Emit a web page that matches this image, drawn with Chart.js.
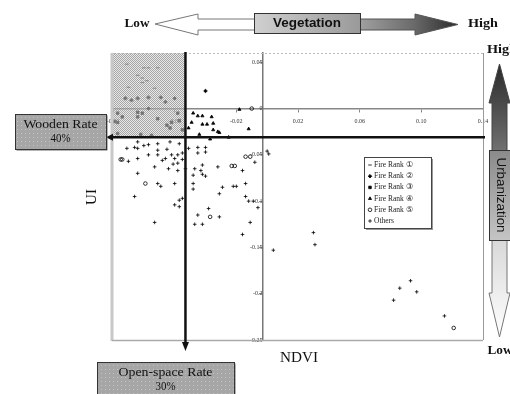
<!DOCTYPE html>
<html lang="en">
<head>
  <meta charset="UTF-8">
  <title>UI vs NDVI</title>
  <script src="https://cdn.jsdelivr.net/npm/chart.js"></script>
  <style>
    body { margin: 0; background: #fff; overflow: hidden; }
    #chart { display: block; }
  </style>
</head>
<body>
  <canvas id="chart" width="510" height="394"></canvas>
  <script>
    // Series names (legend order)
    const seriesNames = ['Fire Rank ①', 'Fire Rank ②', 'Fire Rank ③', 'Fire Rank ④', 'Fire Rank ⑤', 'Others'];

    // [NDVI, UI] pairs
    const rank1 = [
      [-0.091, 0.048], [-0.080, 0.044], [-0.077, 0.044], [-0.071, 0.044], [-0.084, 0.036],
      [-0.081, 0.033], [-0.078, 0.030], [-0.081, 0.028], [-0.073, 0.022], [-0.090, 0.023]
    ];
    const rank2 = [
      [-0.092, 0.011], [-0.084, 0.011], [-0.088, 0.009], [-0.077, 0.012], [-0.069, 0.012],
      [-0.060, 0.011], [-0.066, 0.007], [-0.077, 0.000], [-0.040, 0.019]
    ];
    const rank3 = [
      [-0.097, -0.005], [-0.084, -0.004], [-0.081, -0.005], [-0.094, -0.009], [-0.097, -0.015],
      [-0.099, -0.014], [-0.084, -0.009], [-0.071, -0.011], [-0.065, -0.018], [-0.062, -0.015],
      [-0.058, -0.005], [-0.057, -0.013], [-0.097, -0.027], [-0.075, -0.029], [-0.082, -0.028],
      [-0.063, -0.021], [-0.055, -0.023]
    ];
    const rank4 = [
      [-0.048, -0.005], [-0.045, -0.008], [-0.042, -0.008], [-0.036, -0.009], [-0.049, -0.015],
      [-0.042, -0.017], [-0.039, -0.017], [-0.035, -0.016], [-0.035, -0.023], [-0.032, -0.025],
      [-0.051, -0.021], [-0.044, -0.028], [-0.012, -0.022], [-0.037, -0.033], [-0.025, -0.031],
      [-0.018, -0.001], [-0.031, -0.026]
    ];
    const rank5 = [
      [-0.010, 0.000], [-0.037, -0.117], [-0.095, -0.055], [-0.094, -0.055], [-0.014, -0.052],
      [-0.011, -0.052], [-0.079, -0.081], [-0.023, -0.062], [-0.021, -0.062], [0.121, -0.237]
    ];
    const others = [
      [-0.084, -0.036], [-0.091, -0.043], [-0.086, -0.042], [-0.084, -0.043], [-0.080, -0.040],
      [-0.077, -0.039], [-0.071, -0.038], [-0.063, -0.036], [-0.057, -0.038], [-0.071, -0.045],
      [-0.065, -0.044], [-0.077, -0.050], [-0.071, -0.050], [-0.066, -0.054], [-0.062, -0.050],
      [-0.058, -0.050], [-0.055, -0.048], [-0.090, -0.057], [-0.084, -0.054], [-0.068, -0.056],
      [-0.060, -0.054], [-0.055, -0.055], [-0.061, -0.060], [-0.058, -0.059], [-0.064, -0.065],
      [-0.073, -0.063], [-0.058, -0.067], [-0.053, -0.065], [-0.084, -0.070], [-0.071, -0.081],
      [-0.069, -0.084], [-0.060, -0.081], [-0.086, -0.095], [-0.055, -0.097], [-0.057, -0.099],
      [-0.060, -0.104], [-0.057, -0.106], [-0.073, -0.123],
      [-0.051, -0.043], [-0.045, -0.042], [-0.040, -0.042], [-0.045, -0.048], [-0.040, -0.047],
      [-0.042, -0.061], [-0.047, -0.065], [-0.043, -0.067], [-0.042, -0.071], [-0.040, -0.073],
      [-0.048, -0.072], [-0.048, -0.081], [-0.048, -0.087], [-0.032, -0.063], [-0.016, -0.067],
      [-0.029, -0.085], [-0.022, -0.084], [-0.020, -0.084], [-0.014, -0.081], [-0.031, -0.092],
      [-0.014, -0.095], [-0.012, -0.100], [-0.009, -0.100], [-0.006, -0.107], [-0.038, -0.108],
      [-0.045, -0.115], [-0.031, -0.117], [-0.047, -0.125], [-0.042, -0.125], [-0.011, -0.123],
      [-0.008, -0.058], [-0.016, -0.136],
      [0.000, -0.046], [0.001, -0.049], [0.004, -0.153], [0.030, -0.134], [0.031, -0.147],
      [0.093, -0.186], [0.086, -0.194], [0.097, -0.198], [0.082, -0.207], [0.115, -0.224]
    ];

    // Axis ticks and ranges
    const xTickValues = [-0.10, -0.06, -0.02, 0.02, 0.06, 0.10, 0.14];
    const yTickValues = [-0.25, -0.2, -0.15, -0.1, -0.05, 0, 0.05];
    const xRange = [-0.10, 0.14];
    const yRange = [-0.25, 0.06];
    const yAxisAtNdvi = -0.003;

    // Threshold lines (open-space rate 30%, wooden rate 40%)
    const openSpaceNdvi = -0.053;
    const woodenUi = -0.031;

    const pointStyles = ['line', 'rectRot', 'rect', 'triangle', 'circle', 'cross'];
    const fills = ['#000', '#000', '#000', '#000', 'rgba(0,0,0,0)', '#000'];
    const allSeries = [rank1, rank2, rank3, rank4, rank5, others];

    const SERIF = '"Liberation Serif", "Times New Roman", serif';
    const SANS = '"Liberation Sans", Arial, sans-serif';

    function makePattern(w, h, paint) {
      const c = document.createElement('canvas');
      c.width = w; c.height = h;
      paint(c.getContext('2d'));
      return c;
    }

    // draw text stretched to a target width
    function fitText(ctx, text, cx, cy, font, width, color) {
      ctx.save();
      ctx.font = font;
      ctx.fillStyle = color || '#111';
      ctx.textAlign = 'center';
      ctx.textBaseline = 'middle';
      const w = ctx.measureText(text).width;
      ctx.translate(cx, cy);
      if (width) ctx.scale(width / w, 1);
      ctx.fillText(text, 0, 0);
      ctx.restore();
    }

    function rateBox(ctx, x, y, w, h, line1, line2) {
      const dots = makePattern(4, 4, g => {
        g.fillStyle = '#a6a6a6'; g.fillRect(0, 0, 4, 4);
        g.fillStyle = '#c4c4c4'; g.fillRect(1, 1, 1, 1);
      });
      ctx.save();
      ctx.fillStyle = '#6a6a6a';
      ctx.fillRect(x + 1.5, y + 1.5, w, h);
      ctx.fillStyle = ctx.createPattern(dots, 'repeat');
      ctx.fillRect(x, y, w, h);
      ctx.strokeStyle = '#333';
      ctx.lineWidth = 1;
      ctx.strokeRect(x + 0.5, y + 0.5, w, h);
      ctx.restore();
      fitText(ctx, line1.text, x + w / 2, line1.y, '12px ' + SERIF, line1.w);
      fitText(ctx, line2.text, x + w / 2, line2.y, '12px ' + SERIF, line2.w);
    }

    const decorPlugin = {
      id: 'decor',
      afterDatasetsDraw(chart) {
        const ctx = chart.ctx;
        const {left, right, top, bottom} = chart.chartArea;
        const xs = chart.scales.x, ys = chart.scales.y;
        const vx = xs.getPixelForValue(openSpaceNdvi);
        const hy = ys.getPixelForValue(woodenUi);

        // stippled shading over the high-UI / low-NDVI block
        const checker = makePattern(2, 2, g => {
          g.fillStyle = 'rgba(215,215,215,0.55)'; g.fillRect(0, 0, 2, 2);
          g.fillStyle = 'rgba(110,110,110,0.55)'; g.fillRect(0, 0, 1, 1); g.fillRect(1, 1, 1, 1);
        });
        ctx.save();
        ctx.fillStyle = ctx.createPattern(checker, 'repeat');
        ctx.fillRect(left, top, vx - left, hy - top);

        // frame
        ctx.strokeStyle = '#c8c8c8'; ctx.lineWidth = 3;
        ctx.beginPath(); ctx.moveTo(left - 1, top); ctx.lineTo(left - 1, bottom + 1); ctx.stroke();
        ctx.strokeStyle = '#aaa'; ctx.lineWidth = 1.5;
        ctx.beginPath(); ctx.moveTo(left - 1, bottom + 0.5); ctx.lineTo(right, bottom + 0.5); ctx.stroke();
        ctx.strokeStyle = '#999'; ctx.lineWidth = 1;
        ctx.beginPath(); ctx.moveTo(right + 0.5, top); ctx.lineTo(right + 0.5, bottom); ctx.stroke();
        ctx.strokeStyle = '#bbb'; ctx.setLineDash([2, 2]);
        ctx.beginPath(); ctx.moveTo(left, top + 0.5); ctx.lineTo(right, top + 0.5); ctx.stroke();
        ctx.setLineDash([]);

        // threshold lines with arrows
        ctx.strokeStyle = '#111'; ctx.fillStyle = '#111'; ctx.lineWidth = 2.5;
        ctx.beginPath(); ctx.moveTo(vx, top - 1); ctx.lineTo(vx, bottom + 4); ctx.stroke();
        ctx.beginPath(); ctx.moveTo(vx - 3.5, bottom + 2); ctx.lineTo(vx + 3.5, bottom + 2);
        ctx.lineTo(vx, bottom + 11); ctx.closePath(); ctx.fill();
        ctx.beginPath(); ctx.moveTo(right + 2, hy); ctx.lineTo(left - 2, hy); ctx.stroke();
        ctx.beginPath(); ctx.moveTo(left, hy - 3.5); ctx.lineTo(left, hy + 3.5);
        ctx.lineTo(left - 7, hy); ctx.closePath(); ctx.fill();

        // legend box
        const lx = 364, ly = 157, lw = 67, lh = 71;
        ctx.fillStyle = '#999';
        ctx.fillRect(lx + 2, ly + 2, lw, lh);
        ctx.fillStyle = '#fff';
        ctx.fillRect(lx, ly, lw, lh);
        ctx.strokeStyle = '#444'; ctx.lineWidth = 1;
        ctx.strokeRect(lx + 0.5, ly + 0.5, lw, lh);
        chart.data.datasets.forEach((ds, i) => {
          const ry = ly + 8 + i * 11.2;
          ctx.save();
          ctx.strokeStyle = '#000'; ctx.fillStyle = ds.backgroundColor; ctx.lineWidth = 0.8;
          if (Chart.helpers && Chart.helpers.drawPoint) {
            Chart.helpers.drawPoint(ctx, {pointStyle: ds.pointStyle, radius: 1.8, rotation: 0, borderWidth: 0.8}, lx + 6, ry);
          }
          ctx.restore();
          ctx.fillStyle = '#222';
          ctx.font = '7.5px ' + SERIF;
          ctx.textAlign = 'left'; ctx.textBaseline = 'middle';
          ctx.fillText(ds.label, lx + 10, ry);
        });
        ctx.restore();
      },
      afterDraw(chart) {
        const ctx = chart.ctx;
        ctx.save();

        // --- top vegetation arrow ---
        fitText(ctx, 'Low', 137, 24, 'bold 12px ' + SERIF, 25);
        fitText(ctx, 'High', 483, 24, 'bold 12px ' + SERIF, 30);
        ctx.lineWidth = 1; ctx.strokeStyle = '#777';
        ctx.fillStyle = '#fff';
        ctx.beginPath();
        ctx.moveTo(155, 24); ctx.lineTo(198, 14); ctx.lineTo(198, 19); ctx.lineTo(255, 19);
        ctx.lineTo(255, 30); ctx.lineTo(198, 30); ctx.lineTo(198, 35); ctx.closePath();
        ctx.fill(); ctx.stroke();
        let g = ctx.createLinearGradient(360, 0, 458, 0);
        g.addColorStop(0, '#a0a0a0'); g.addColorStop(0.55, '#6a6a6a'); g.addColorStop(1, '#2a2a2a');
        ctx.fillStyle = g; ctx.strokeStyle = '#555';
        ctx.beginPath();
        ctx.moveTo(359, 19); ctx.lineTo(415, 19); ctx.lineTo(415, 14); ctx.lineTo(458, 24.5);
        ctx.lineTo(415, 35); ctx.lineTo(415, 30); ctx.lineTo(359, 30); ctx.closePath();
        ctx.fill(); ctx.stroke();
        g = ctx.createLinearGradient(254, 0, 360, 0);
        g.addColorStop(0, '#d0d0d0'); g.addColorStop(1, '#9a9a9a');
        ctx.fillStyle = g; ctx.fillRect(254, 13, 106, 20);
        ctx.strokeStyle = '#333'; ctx.strokeRect(254.5, 13.5, 106, 20);
        fitText(ctx, 'Vegetation', 307, 24, 'bold 12px ' + SANS, 68);

        // --- right urbanization arrow ---
        fitText(ctx, 'High', 502, 50, 'bold 12px ' + SERIF, 30);
        fitText(ctx, 'Low', 500, 351, 'bold 12px ' + SERIF, 25);
        g = ctx.createLinearGradient(0, 64, 0, 150);
        g.addColorStop(0, '#2a2a2a'); g.addColorStop(1, '#707070');
        ctx.fillStyle = g; ctx.strokeStyle = '#444';
        ctx.beginPath();
        ctx.moveTo(499.5, 64); ctx.lineTo(510, 103); ctx.lineTo(507, 103); ctx.lineTo(507, 151);
        ctx.lineTo(492, 151); ctx.lineTo(492, 103); ctx.lineTo(489, 103); ctx.closePath();
        ctx.fill(); ctx.stroke();
        g = ctx.createLinearGradient(0, 239, 0, 337);
        g.addColorStop(0, '#d8d8d8'); g.addColorStop(1, '#ffffff');
        ctx.fillStyle = g; ctx.strokeStyle = '#777';
        ctx.beginPath();
        ctx.moveTo(492, 239); ctx.lineTo(507, 239); ctx.lineTo(507, 293); ctx.lineTo(510, 293);
        ctx.lineTo(499.5, 337); ctx.lineTo(489, 293); ctx.lineTo(492, 293); ctx.closePath();
        ctx.fill(); ctx.stroke();
        g = ctx.createLinearGradient(0, 150, 0, 240);
        g.addColorStop(0, '#8a8a8a'); g.addColorStop(1, '#c4c4c4');
        ctx.fillStyle = g; ctx.fillRect(489, 150, 22, 90);
        ctx.strokeStyle = '#333'; ctx.strokeRect(489.5, 150.5, 22, 90);
        ctx.save();
        ctx.translate(500, 195); ctx.rotate(Math.PI / 2);
        fitText(ctx, 'Urbanization', 0, 0, '12px ' + SANS, 75);
        ctx.restore();

        // --- rate boxes and axis titles ---
        rateBox(ctx, 15, 114, 91, 35, {text: 'Wooden Rate', y: 125, w: 74}, {text: '40%', y: 139, w: 20});
        rateBox(ctx, 97, 362, 137, 40, {text: 'Open-space Rate', y: 373, w: 94}, {text: '30%', y: 387, w: 20});
        fitText(ctx, 'NDVI', 299, 358, '14px ' + SERIF, 38);
        ctx.save();
        ctx.translate(92, 197); ctx.rotate(-Math.PI / 2);
        fitText(ctx, 'UI', 0, 0, '14px ' + SERIF, 16);
        ctx.restore();

        ctx.restore();
      }
    };

    const tickFont = {family: SERIF, size: 6};

    new Chart(document.getElementById('chart'), {
      type: 'scatter',
      data: {
        datasets: allSeries.map((pts, i) => ({
          label: seriesNames[i],
          data: pts.map(p => ({x: p[0], y: p[1]})),
          pointStyle: pointStyles[i],
          pointRadius: 1.8,
          pointBorderWidth: 0.8,
          borderColor: '#000',
          backgroundColor: fills[i]
        }))
      },
      options: {
        responsive: false,
        animation: false,
        events: [],
        layout: {padding: {left: 113, right: 27, top: 53, bottom: 54}},
        plugins: {legend: {display: false}, tooltip: {enabled: false}},
        scales: {
          x: {
            type: 'linear',
            position: {y: 0},
            min: xRange[0], max: xRange[1],
            afterBuildTicks: axis => { axis.ticks = xTickValues.map(v => ({value: v})); },
            ticks: {
              autoSkip: false, maxRotation: 0, padding: 6, font: tickFont, color: '#333',
              callback: v => v.toFixed(2)
            },
            grid: {display: true, drawOnChartArea: false, drawTicks: true, tickLength: 3, color: '#888'},
            border: {display: true, color: '#888', width: 1.5}
          },
          y: {
            type: 'linear',
            position: {x: yAxisAtNdvi},
            min: yRange[0], max: yRange[1],
            afterBuildTicks: axis => { axis.ticks = yTickValues.map(v => ({value: v})); },
            ticks: {
              autoSkip: false, padding: 3, font: tickFont, color: '#333',
              callback: v => String(Number(v.toFixed(2)))
            },
            grid: {display: true, drawOnChartArea: false, drawTicks: true, tickLength: 3, color: '#888'},
            border: {display: true, color: '#777', width: 1.5}
          }
        }
      },
      plugins: [decorPlugin]
    });
  </script>
</body>
</html>
